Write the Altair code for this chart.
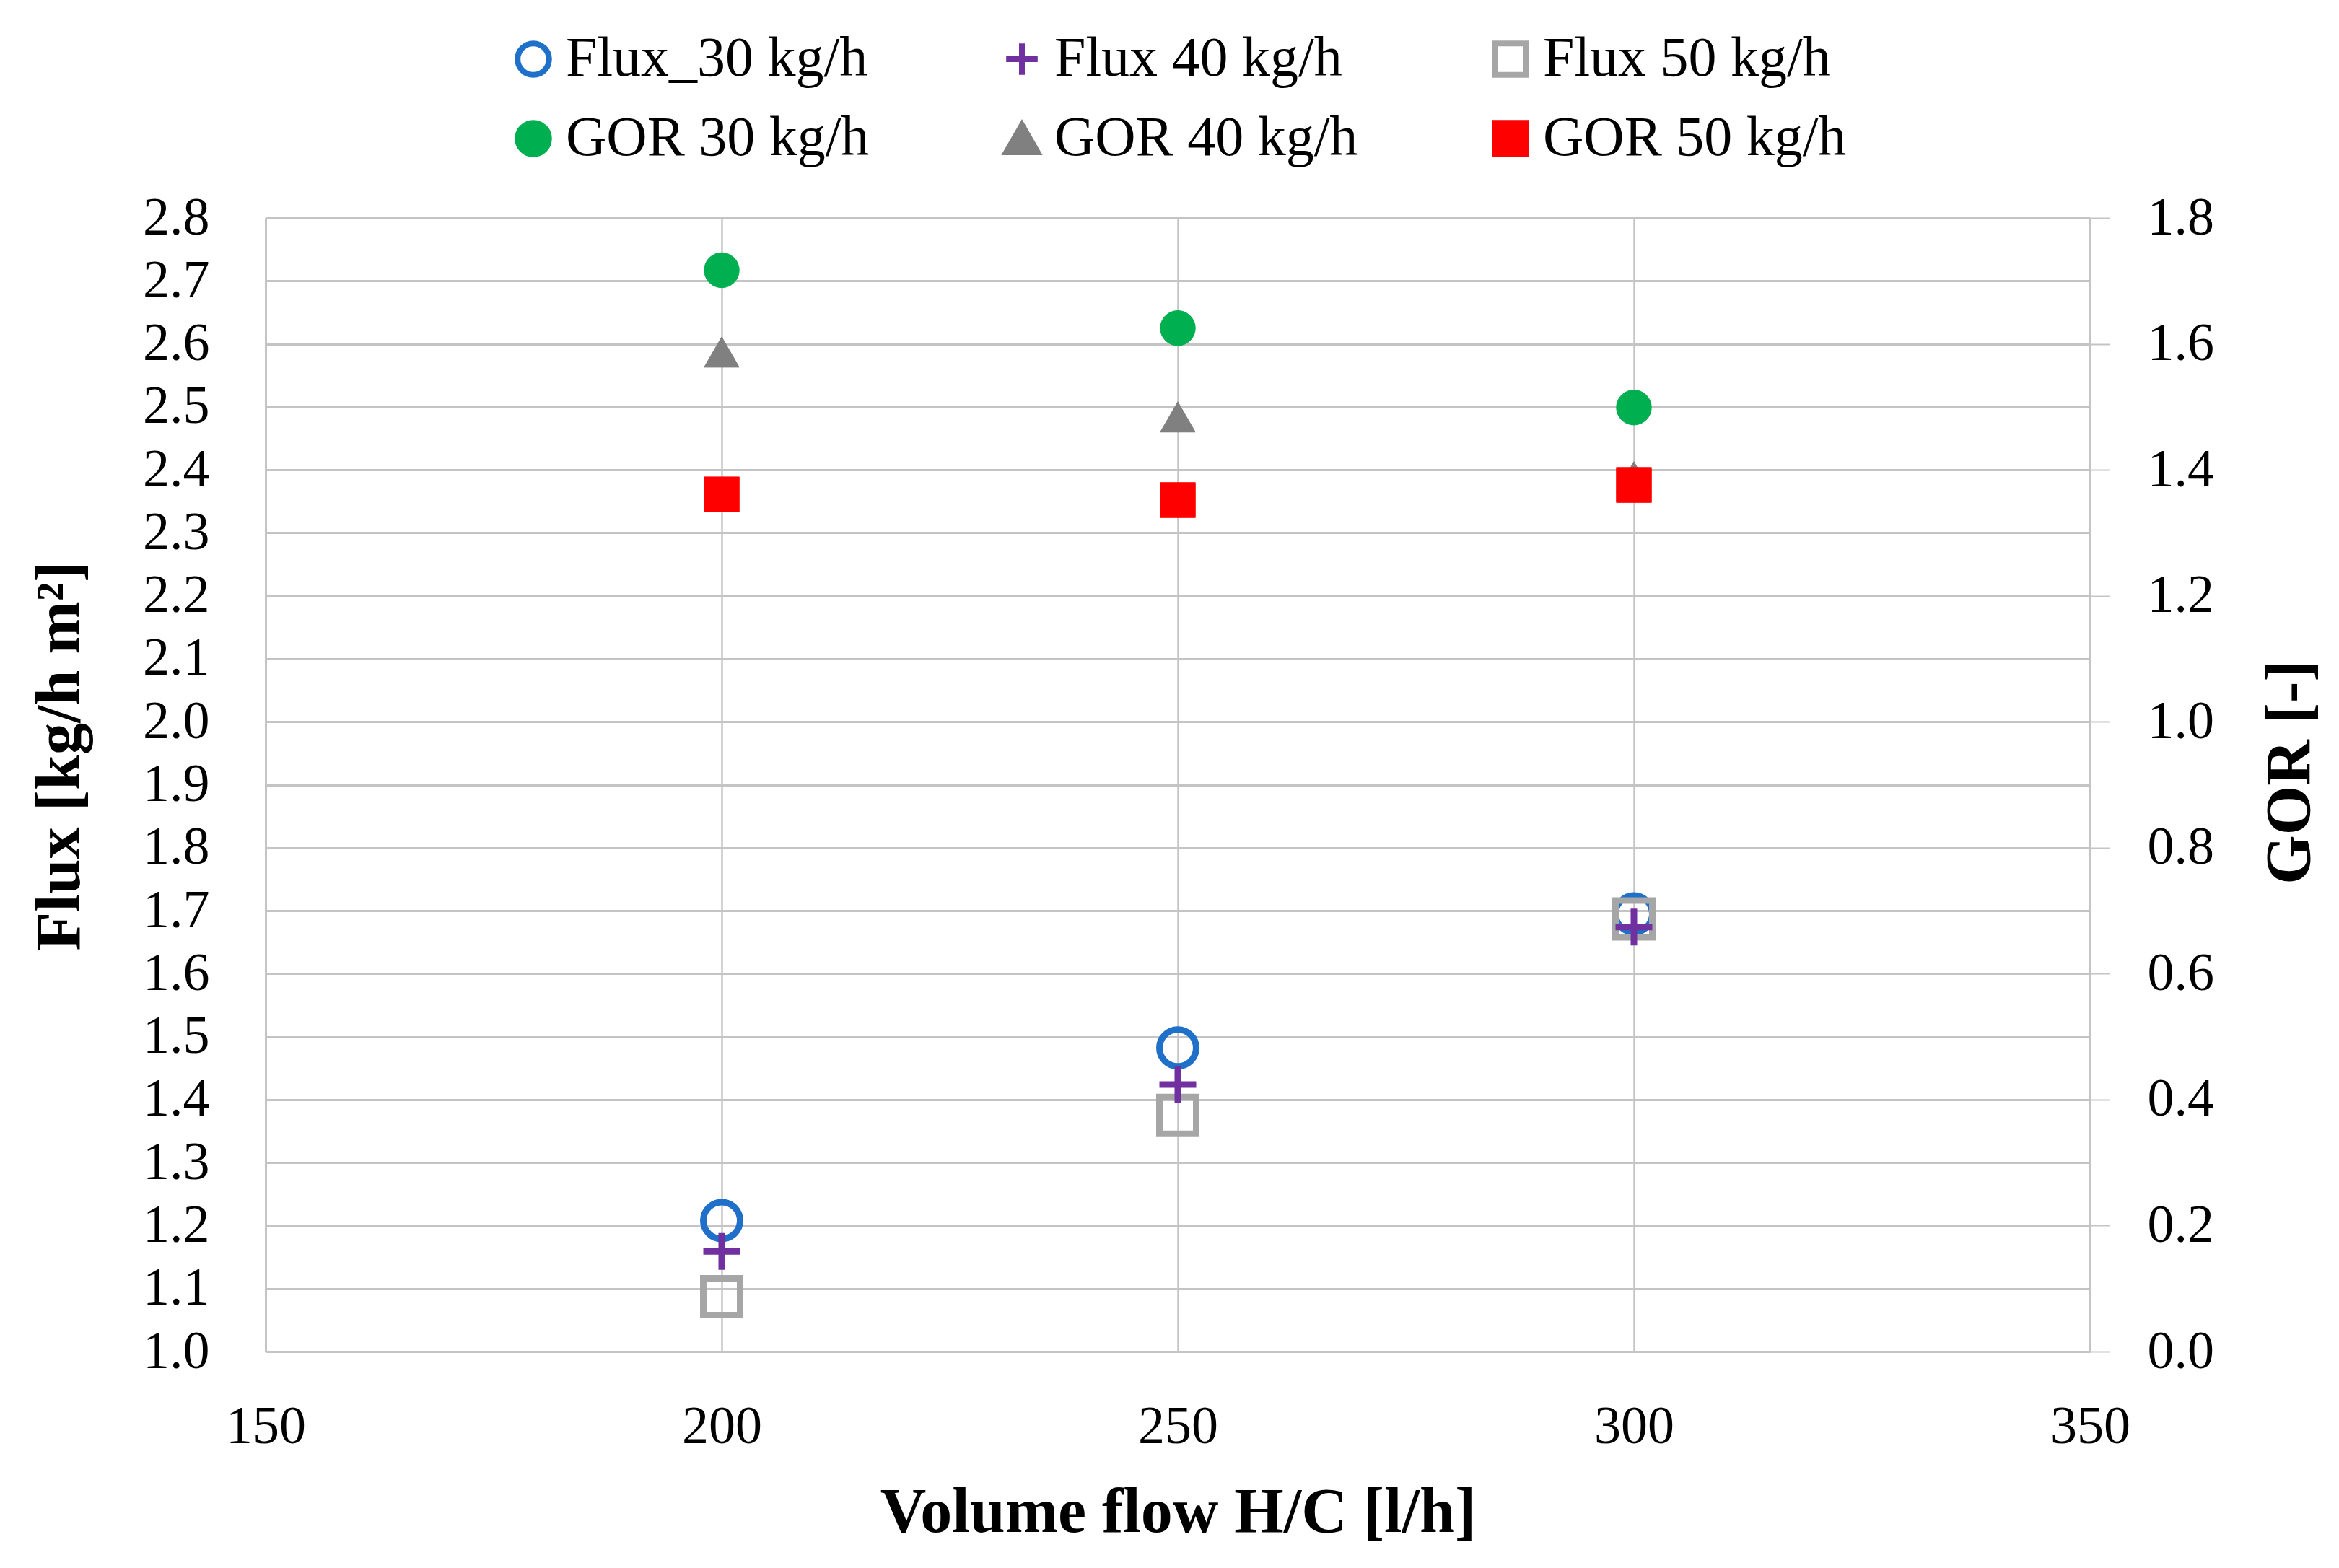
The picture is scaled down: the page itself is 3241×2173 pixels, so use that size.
import altair as alt
import pandas as pd

# ---- data ----
x_vals = [200, 250, 300]
flux_30 = [1.208, 1.482, 1.695]
flux_40 = [1.159, 1.424, 1.674]
flux_50 = [1.087, 1.375, 1.687]
gor_30 = [1.717, 1.625, 1.499]
gor_40 = [1.587, 1.484, 1.389]
gor_50 = [1.361, 1.352, 1.376]

series_names = ["Flux_30 kg/h", "Flux 40 kg/h", "Flux 50 kg/h",
                "GOR 30 kg/h", "GOR 40 kg/h", "GOR 50 kg/h"]
x_ticks = [150, 200, 250, 300, 350]
flux_ticks = [1.0, 1.1, 1.2, 1.3, 1.4, 1.5, 1.6, 1.7, 1.8, 1.9,
              2.0, 2.1, 2.2, 2.3, 2.4, 2.5, 2.6, 2.7, 2.8]
gor_ticks = [0.0, 0.2, 0.4, 0.6, 0.8, 1.0, 1.2, 1.4, 1.6, 1.8]

# ---- styling ----
fill_range = ["transparent", "transparent", "transparent", "#00B050", "#808080", "#FF0000"]
stroke_range = ["#1E70C8", "#7030A0", "#A6A6A6", "#00B050", "#808080", "#FF0000"]
shape_range = ["circle", "M-1,0H1M0,-1V1", "square", "circle", "triangle-up", "square"]
FONT = "Liberation Serif"
GRID = "#C4C4C4"

rows = []
for name, vals in [("Flux_30 kg/h", flux_30), ("Flux 50 kg/h", flux_50), ("Flux 40 kg/h", flux_40)]:
    for x, v in zip(x_vals, vals):
        rows.append({"x": x, "value": v, "series": name, "axis": "Flux"})
for name, vals in [("GOR 30 kg/h", gor_30), ("GOR 40 kg/h", gor_40), ("GOR 50 kg/h", gor_50)]:
    for x, v in zip(x_vals, vals):
        rows.append({"x": x, "value": v, "series": name, "axis": "GOR"})
df = pd.DataFrame(rows)

legend = alt.Legend(
    title=None, orient="none", legendX=332, legendY=-259, columns=3,
    direction="horizontal", labelFont=FONT, labelFontSize=78, labelColor="black",
    symbolSize=1900, symbolStrokeWidth=8, columnPadding=172, rowPadding=32,
    labelOffset=6, padding=0, labelLimit=1000,
)

x_enc = alt.X("x:Q", scale=alt.Scale(domain=[150, 350], nice=False, zero=False),
              axis=alt.Axis(values=x_ticks, title="Volume flow H/C [l/h]", ticks=False,
                            labelFlush=False, labelPadding=68, grid=True, gridColor=GRID,
                            gridWidth=2.5, domainColor=GRID, domainWidth=3, titlePadding=38))

common = dict(
    fill=alt.Fill("series:N", scale=alt.Scale(domain=series_names, range=fill_range), legend=legend),
    stroke=alt.Stroke("series:N", scale=alt.Scale(domain=series_names, range=stroke_range), legend=legend),
    shape=alt.Shape("series:N", scale=alt.Scale(domain=series_names, range=shape_range), legend=legend),
)

flux_layer = alt.Chart(df).transform_filter(alt.datum.axis == "Flux").mark_point(
    opacity=1, size=2600, strokeWidth=9
).encode(
    x=x_enc,
    y=alt.Y("value:Q", scale=alt.Scale(domain=[1.0, 2.8], nice=False, zero=False),
            axis=alt.Axis(values=flux_ticks, format=".1f", title="Flux [kg/h m²]", orient="left",
                          ticks=False, labelPadding=78, grid=True, gridColor=GRID, gridWidth=3,
                          domainColor=GRID, domainWidth=3, titlePadding=70, titleY=745)),
    **common,
)

gor_layer = alt.Chart(df).transform_filter(alt.datum.axis == "GOR").mark_point(
    opacity=1, size=2350, strokeWidth=1
).encode(
    x=x_enc,
    y=alt.Y("value:Q", scale=alt.Scale(domain=[0.0, 1.8], nice=False, zero=False),
            axis=alt.Axis(values=gor_ticks, format=".1f", title="GOR [-]", orient="right",
                          ticks=True, tickSize=27, tickColor=GRID, tickWidth=2,
                          labelPadding=52, grid=False, domainColor=GRID, domainWidth=3,
                          titleAngle=270, titleBaseline="top", titlePadding=62, titleY=768)),
    **common,
)

chart = alt.layer(flux_layer, gor_layer).resolve_scale(y="independent").properties(
    width=2528, height=1571,
    padding={"left": 360, "top": 294, "right": 337, "bottom": 292},
    autosize=alt.AutoSizeParams(type="none"),
).configure_view(strokeWidth=0).configure_axis(
    labelFont=FONT, labelFontSize=74, labelColor="black",
    titleFont=FONT, titleFontSize=88, titleFontWeight="bold", titleColor="black",
)

chart.save("out.html", embed_options={"renderer": "svg", "actions": False})
